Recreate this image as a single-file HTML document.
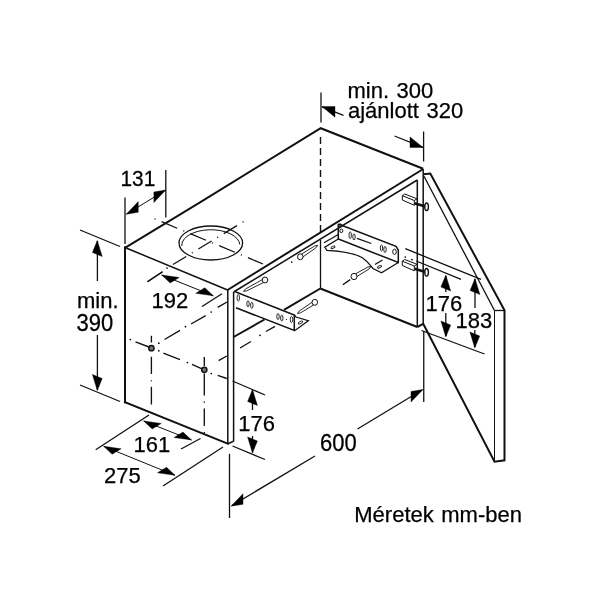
<!DOCTYPE html>
<html><head><meta charset="utf-8"><style>
html,body{margin:0;padding:0;background:#fff;width:600px;height:600px;overflow:hidden}
svg{display:block;will-change:transform}
text{font-family:"Liberation Sans",sans-serif;fill:#000;stroke:#000;stroke-width:0.25px;word-spacing:1.4px}
</style></head><body>
<svg width="600" height="600" viewBox="0 0 600 600">
<rect width="600" height="600" fill="#fff"/>
<g stroke="#111" fill="none">
<polyline points="125,247.8 200,202.3 320.7,128.2 423.2,168.8" stroke-width="2.0" fill="none" stroke-linejoin="miter"/>
<line x1="227.5" y1="290" x2="423.2" y2="169" stroke-width="2.0" stroke-linecap="butt"/>
<line x1="125" y1="247.5" x2="227.5" y2="290" stroke-width="1.5" stroke-linecap="square"/>
<line x1="125" y1="247.5" x2="125" y2="402.3" stroke-width="2.0" stroke-linecap="square"/>
<line x1="125" y1="402.3" x2="228" y2="443.8" stroke-width="2.0" stroke-linecap="square"/>
<line x1="227.8" y1="290" x2="227.8" y2="443.8" stroke-width="1.5" stroke-linecap="butt"/>
<line x1="233.6" y1="292" x2="233.6" y2="441.5" stroke-width="1.5" stroke-linecap="butt"/>
<line x1="227.8" y1="443.8" x2="233.6" y2="441.3" stroke-width="1.5" stroke-linecap="butt"/>
<line x1="233.6" y1="292" x2="417.3" y2="180" stroke-width="1.5" stroke-linecap="butt"/>
<line x1="423.2" y1="169" x2="423.2" y2="324" stroke-width="1.5" stroke-linecap="butt"/>
<line x1="417.3" y1="180" x2="417.3" y2="327" stroke-width="1.5" stroke-linecap="butt"/>
<line x1="320.5" y1="137" x2="320.5" y2="233" stroke-width="1.4" stroke-dasharray="7 4" stroke-dashoffset="0" stroke-linecap="butt"/>
<line x1="320.5" y1="240" x2="320.5" y2="288.5" stroke-width="1.3" stroke-linecap="butt"/>
<line x1="320.3" y1="288.5" x2="417.3" y2="327" stroke-width="2.0" stroke-linecap="butt"/>
<line x1="417.3" y1="327" x2="423.2" y2="323.8" stroke-width="2.0" stroke-linecap="butt"/>
<line x1="233.6" y1="337" x2="264.5" y2="319.5" stroke-width="2.0" stroke-linecap="butt"/>
<line x1="284" y1="309.8" x2="320.3" y2="288.5" stroke-width="2.0" stroke-linecap="butt"/>
<polyline points="423.5,174.3 430.3,173.6 504.5,310.3 504.5,460.3 494.5,461.7 423.2,323.8" stroke-width="2.0" fill="none" stroke-linejoin="miter"/>
<line x1="424" y1="176.3" x2="494.5" y2="310.5" stroke-width="1.3" stroke-linecap="butt"/>
<line x1="494.5" y1="310.5" x2="504.5" y2="310.5" stroke-width="1.3" stroke-linecap="butt"/>
<line x1="494.5" y1="310.5" x2="494.5" y2="461.5" stroke-width="1.0" stroke-linecap="butt"/>
<ellipse cx="210.8" cy="243" rx="31.8" ry="17" transform="rotate(0 210.8 243)" stroke-width="1.3" fill="none"/>
<path d="M181.8,246 A29 15.5 0 0 1 239.8,244.5" stroke-width="1.0" fill="none"/>
<line x1="154.4" y1="218.75" x2="263" y2="264" stroke-width="1.3" stroke-dasharray="1.2 6.5 17 6.5" stroke-dashoffset="0" stroke-linecap="butt"/>
<line x1="147.5" y1="281.7" x2="162.5" y2="271.7" stroke-width="1.3" stroke-linecap="butt"/>
<line x1="173" y1="264.5" x2="247" y2="219.5" stroke-width="1.3" stroke-dasharray="15.5 6.5 1.2 6.5" stroke-dashoffset="0" stroke-linecap="butt"/>
<circle cx="167" cy="268" r="0.85" fill="#000" stroke="none"/>
<ellipse cx="151.4" cy="348.2" rx="2.6" ry="2.6" transform="rotate(0 151.4 348.2)" stroke-width="1.5" fill="#777"/>
<ellipse cx="204.3" cy="369.8" rx="2.6" ry="2.6" transform="rotate(0 204.3 369.8)" stroke-width="1.5" fill="#777"/>
<line x1="151.4" y1="335.8" x2="151.4" y2="342.5" stroke-width="1.35" stroke-linecap="butt"/>
<line x1="151.4" y1="356.8" x2="151.4" y2="374" stroke-width="1.35" stroke-linecap="butt"/>
<line x1="151.4" y1="380.3" x2="151.4" y2="381.3" stroke-width="1.35" stroke-linecap="butt"/>
<line x1="151.4" y1="386.8" x2="151.4" y2="404.5" stroke-width="1.35" stroke-linecap="butt"/>
<line x1="204.3" y1="357" x2="204.3" y2="366" stroke-width="1.35" stroke-linecap="butt"/>
<line x1="204.3" y1="373.5" x2="204.3" y2="395.5" stroke-width="1.35" stroke-linecap="butt"/>
<line x1="204.3" y1="401.5" x2="204.3" y2="402.7" stroke-width="1.35" stroke-linecap="butt"/>
<line x1="204.3" y1="408.5" x2="204.3" y2="426" stroke-width="1.35" stroke-linecap="butt"/>
<line x1="204.3" y1="432" x2="204.3" y2="433.2" stroke-width="1.35" stroke-linecap="butt"/>
<circle cx="130.3" cy="339.5" r="0.85" fill="#000" stroke="none"/>
<circle cx="158.8" cy="350.8" r="0.85" fill="#000" stroke="none"/>
<circle cx="187.4" cy="362.5" r="0.85" fill="#000" stroke="none"/>
<circle cx="211.2" cy="373.5" r="0.85" fill="#000" stroke="none"/>
<line x1="135.5" y1="341.8" x2="149" y2="347" stroke-width="1.35" stroke-linecap="butt"/>
<line x1="163.4" y1="353.2" x2="180" y2="359.7" stroke-width="1.35" stroke-linecap="butt"/>
<line x1="192" y1="364.3" x2="202" y2="368.9" stroke-width="1.35" stroke-linecap="butt"/>
<line x1="217.7" y1="375.3" x2="226.8" y2="378.5" stroke-width="1.35" stroke-linecap="butt"/>
<circle cx="158.8" cy="343.2" r="0.85" fill="#000" stroke="none"/>
<circle cx="185.5" cy="326.7" r="0.85" fill="#000" stroke="none"/>
<circle cx="211.2" cy="312" r="0.85" fill="#000" stroke="none"/>
<line x1="164.5" y1="339.5" x2="180" y2="330.4" stroke-width="1.35" stroke-linecap="butt"/>
<line x1="191" y1="324" x2="205.7" y2="315.7" stroke-width="1.35" stroke-linecap="butt"/>
<line x1="217.7" y1="307.4" x2="227" y2="302" stroke-width="1.35" stroke-linecap="butt"/>
<line x1="218.6" y1="360.6" x2="226.8" y2="356" stroke-width="1.35" stroke-linecap="butt"/>
<line x1="240" y1="348" x2="251" y2="341.5" stroke-width="1.35" stroke-linecap="butt"/>
<line x1="266" y1="331.5" x2="275" y2="326.3" stroke-width="1.35" stroke-linecap="butt"/>
<circle cx="260" cy="335.3" r="0.85" fill="#000" stroke="none"/>
<circle cx="291.7" cy="262" r="0.85" fill="#000" stroke="none"/>
<polyline points="235.3,291.8 294.3,315 294.3,330.5 236,307.8" stroke-width="1.5" fill="none" stroke-linejoin="miter"/>
<polyline points="294.3,315 296,317 308.3,320.7 295.3,330.2 294.3,330.5" stroke-width="1.3" fill="none" stroke-linejoin="miter"/>
<ellipse cx="238.3" cy="297.8" rx="1.2" ry="3.4" transform="rotate(0 238.3 297.8)" stroke-width="0.9" fill="none"/>
<ellipse cx="248" cy="303.8" rx="1.2" ry="3.0" transform="rotate(0 248 303.8)" stroke-width="0.9" fill="none"/>
<ellipse cx="251.8" cy="305.3" rx="1.2" ry="3.0" transform="rotate(0 251.8 305.3)" stroke-width="0.9" fill="none"/>
<ellipse cx="278" cy="316.5" rx="1.2" ry="3.0" transform="rotate(0 278 316.5)" stroke-width="0.9" fill="none"/>
<ellipse cx="281.8" cy="318" rx="1.2" ry="3.0" transform="rotate(0 281.8 318)" stroke-width="0.9" fill="none"/>
<ellipse cx="291.5" cy="319.5" rx="1.2" ry="3.2" transform="rotate(0 291.5 319.5)" stroke-width="0.9" fill="none"/>
<ellipse cx="300.5" cy="322.5" rx="2.4" ry="1.1" transform="rotate(-30 300.5 322.5)" stroke-width="0.9" fill="none"/>
<circle cx="286.5" cy="319.5" r="0.6" fill="#000" stroke="none"/>
<polyline points="264.25562032871215,278.5837023953373 245.63449223884112,288.9128797930714 243.5,291.3 246.6766237786441,290.8956964395992 265.74437967128785,281.4162976046627" stroke-width="0.9" fill="none" stroke-linejoin="miter"/>
<ellipse cx="265" cy="280" rx="2.8" ry="2.94" transform="rotate(0 265 280)" stroke-width="1.0" fill="#fff"/>
<polyline points="313.9304760742709,300.9568960790078 299.4096531038501,310.92946989456345 297.5,313.5 300.6269865998708,312.8098153839526 315.6695239257291,303.64310392099225" stroke-width="0.9" fill="none" stroke-linejoin="miter"/>
<ellipse cx="314.8" cy="302.3" rx="2.8" ry="2.94" transform="rotate(0 314.8 302.3)" stroke-width="1.0" fill="#fff"/>
<polyline points="301.1822023345347,258.1348104887742 315.8147719677226,247.88849671939445 317.7,245.3 314.5796886993741,246.01976203511057 299.41779766546534,255.46518951122582" stroke-width="0.9" fill="none" stroke-linejoin="miter"/>
<ellipse cx="300.3" cy="256.8" rx="2.8" ry="2.94" transform="rotate(0 300.3 256.8)" stroke-width="1.0" fill="#fff"/>
<polyline points="354.81123220250146,277.8790947442524 368.9820598962777,268.9864267006669 371,266.5 367.84633481277564,267.05569405871347 353.18876779749854,275.1209052557476" stroke-width="0.9" fill="none" stroke-linejoin="miter"/>
<ellipse cx="354" cy="276.5" rx="3.0" ry="3.1500000000000004" transform="rotate(0 354 276.5)" stroke-width="1.0" fill="#fff"/>
<line x1="342.8" y1="284.8" x2="350.2" y2="279.6" stroke-width="1.3" stroke-linecap="butt"/>
<polyline points="338.3,224 396,246.3 398.3,250 398.3,262.5 338.3,239 338.3,224" stroke-width="1.5" fill="none" stroke-linejoin="miter"/>
<path d="M338.3,239 L324.8,247.3 L327,250.3 C340,251 352,252 362,257.5 C368,261.5 371,266 373,268.5 L381.5,272.8 L398.3,262.5" stroke-width="1.3" fill="none"/>
<line x1="324" y1="242.7" x2="338.3" y2="234.5" stroke-width="1.3" stroke-linecap="butt"/>
<ellipse cx="350.2" cy="235.2" rx="1.2" ry="3.4" transform="rotate(0 350.2 235.2)" stroke-width="0.9" fill="none"/>
<ellipse cx="354" cy="236.9" rx="1.2" ry="3.0" transform="rotate(0 354 236.9)" stroke-width="0.9" fill="none"/>
<ellipse cx="381.5" cy="248" rx="1.2" ry="3.0" transform="rotate(0 381.5 248)" stroke-width="0.9" fill="none"/>
<ellipse cx="385" cy="249.5" rx="1.2" ry="3.0" transform="rotate(0 385 249.5)" stroke-width="0.9" fill="none"/>
<line x1="357" y1="238.3" x2="371.3" y2="243.5" stroke-width="1.3" stroke-linecap="butt"/>
<ellipse cx="394.5" cy="251.8" rx="1.8" ry="2.6" transform="rotate(0 394.5 251.8)" stroke-width="1.0" fill="none"/>
<ellipse cx="340.5" cy="225.5" rx="1.5" ry="1.5" transform="rotate(0 340.5 225.5)" stroke-width="1.0" fill="none"/>
<ellipse cx="341.3" cy="230.8" rx="1.5" ry="1.8" transform="rotate(0 341.3 230.8)" stroke-width="1.0" fill="none"/>
<ellipse cx="333" cy="247.3" rx="2.2" ry="1" transform="rotate(-25 333 247.3)" stroke-width="0.9" fill="none"/>
<ellipse cx="379.5" cy="266.8" rx="2.2" ry="1" transform="rotate(-25 379.5 266.8)" stroke-width="0.9" fill="none"/>
<line x1="375" y1="264.5" x2="382.5" y2="260" stroke-width="1.3" stroke-linecap="butt"/>
<polyline points="402.3,195.7 404.7,194 417,198.8 414.3,200.5 402.3,195.7 402.3,200 414.3,205.3 414.3,200.5" stroke-width="1.0" fill="none" stroke-linejoin="miter"/>
<line x1="414.5" y1="203.2" x2="425.5" y2="206.5" stroke-width="2.6" stroke-linecap="butt"/>
<ellipse cx="426.6" cy="206.8" rx="1.8" ry="3.8" transform="rotate(0 426.6 206.8)" stroke-width="1.4" fill="#fff"/>
<polyline points="402.3,261.2 404.7,259.5 417,264.3 414.3,266.0 402.3,261.2 402.3,265.5 414.3,270.8 414.3,266.0" stroke-width="1.0" fill="none" stroke-linejoin="miter"/>
<line x1="414.5" y1="268.7" x2="425.5" y2="272.0" stroke-width="2.6" stroke-linecap="butt"/>
<ellipse cx="426.6" cy="272.3" rx="1.8" ry="3.8" transform="rotate(0 426.6 272.3)" stroke-width="1.4" fill="#fff"/>
<line x1="125" y1="197.5" x2="125" y2="244" stroke-width="1.3" stroke-linecap="butt"/>
<line x1="165.8" y1="170" x2="165.8" y2="217.5" stroke-width="1.3" stroke-linecap="butt"/>
<line x1="126.3" y1="214.2" x2="165.8" y2="190" stroke-width="1.0" stroke-linecap="butt"/>
<polygon points="126.30,214.20 138.24,212.19 138.24,201.59" fill="#000" stroke="#000" stroke-width="0.4"/>
<polygon points="165.80,190.00 153.86,202.61 153.86,192.01" fill="#000" stroke="#000" stroke-width="0.4"/>
<text transform="translate(120.5 185.5) scale(0.95 1.0)" x="0" y="0" font-size="22" text-anchor="start">131</text>
<line x1="80" y1="230" x2="120" y2="246.5" stroke-width="1.3" stroke-linecap="butt"/>
<line x1="80" y1="385" x2="120" y2="401.5" stroke-width="1.3" stroke-linecap="butt"/>
<line x1="97.4" y1="241" x2="97.4" y2="281" stroke-width="1.3" stroke-linecap="butt"/>
<polygon points="97.30,240.50 102.20,256.53 92.40,252.47" fill="#000" stroke="#000" stroke-width="0.4"/>
<line x1="97.4" y1="335" x2="97.4" y2="390" stroke-width="1.3" stroke-linecap="butt"/>
<polygon points="97.30,390.50 102.20,378.53 92.40,374.47" fill="#000" stroke="#000" stroke-width="0.4"/>
<text x="77" y="307.5" font-size="22" text-anchor="start">min.</text>
<text transform="translate(76.5 330.5) scale(1.0 1.07)" x="0" y="0" font-size="22" text-anchor="start">390</text>
<line x1="147.5" y1="281.7" x2="162.5" y2="271.7" stroke-width="1.3" stroke-linecap="butt"/>
<line x1="202" y1="306.5" x2="222" y2="293.7" stroke-width="1.3" stroke-linecap="butt"/>
<line x1="161.7" y1="275" x2="213.3" y2="295.8" stroke-width="1.0" stroke-linecap="butt"/>
<polygon points="161.70,275.00 179.21,277.47 170.16,282.99" fill="#000" stroke="#000" stroke-width="0.4"/>
<polygon points="213.30,295.80 204.84,287.81 195.79,293.33" fill="#000" stroke="#000" stroke-width="0.4"/>
<text x="151.5" y="307.5" font-size="22" text-anchor="start">192</text>
<line x1="321" y1="92.5" x2="321" y2="122.5" stroke-width="1.3" stroke-linecap="butt"/>
<line x1="322" y1="106.8" x2="343.5" y2="115.3" stroke-width="1.3" stroke-linecap="butt"/>
<polygon points="322.00,106.60 334.98,117.15 334.98,106.55" fill="#000" stroke="#000" stroke-width="0.4"/>
<line x1="394.5" y1="136" x2="423" y2="147.4" stroke-width="1.3" stroke-linecap="butt"/>
<polygon points="423.00,147.40 410.00,147.50 410.00,136.90" fill="#000" stroke="#000" stroke-width="0.4"/>
<line x1="423.6" y1="131.5" x2="423.6" y2="161.5" stroke-width="1.3" stroke-linecap="butt"/>
<text x="347.5" y="98" font-size="22" text-anchor="start">min. 300</text>
<text x="348" y="118" font-size="22" text-anchor="start">ajánlott 320</text>
<line x1="405.3" y1="248.7" x2="481" y2="279.3" stroke-width="1.3" stroke-linecap="butt"/>
<circle cx="405.3" cy="257" r="0.85" fill="#000" stroke="none"/>
<line x1="411" y1="259.3" x2="413" y2="260" stroke-width="1.3" stroke-linecap="butt"/>
<line x1="416.3" y1="261" x2="461" y2="279.3" stroke-width="1.3" stroke-linecap="butt"/>
<line x1="421.5" y1="330.5" x2="484.5" y2="354" stroke-width="1.3" stroke-linecap="butt"/>
<line x1="445.8" y1="276" x2="445.8" y2="292" stroke-width="1.3" stroke-linecap="butt"/>
<polygon points="445.80,275.00 450.70,291.03 440.90,286.97" fill="#000" stroke="#000" stroke-width="0.4"/>
<line x1="445.8" y1="313" x2="445.8" y2="336" stroke-width="1.3" stroke-linecap="butt"/>
<polygon points="445.80,337.00 450.70,325.03 440.90,320.97" fill="#000" stroke="#000" stroke-width="0.4"/>
<line x1="475" y1="279" x2="475" y2="308" stroke-width="1.3" stroke-linecap="butt"/>
<polygon points="475.00,278.50 479.90,294.53 470.10,290.47" fill="#000" stroke="#000" stroke-width="0.4"/>
<line x1="474.8" y1="330" x2="474.8" y2="347" stroke-width="1.3" stroke-linecap="butt"/>
<polygon points="474.80,348.00 479.70,336.03 469.90,331.97" fill="#000" stroke="#000" stroke-width="0.4"/>
<text x="425.5" y="310.5" font-size="22" text-anchor="start">176</text>
<text x="455.5" y="328" font-size="22" text-anchor="start">183</text>
<line x1="232.5" y1="381" x2="265" y2="395" stroke-width="1.3" stroke-linecap="butt"/>
<line x1="232.5" y1="446" x2="265" y2="459.5" stroke-width="1.3" stroke-linecap="butt"/>
<line x1="252.5" y1="390" x2="252.5" y2="410" stroke-width="1.3" stroke-linecap="butt"/>
<polygon points="252.50,389.50 257.40,405.53 247.60,401.47" fill="#000" stroke="#000" stroke-width="0.4"/>
<line x1="252.5" y1="436" x2="252.5" y2="452.5" stroke-width="1.3" stroke-linecap="butt"/>
<polygon points="252.50,453.00 257.40,441.03 247.60,436.97" fill="#000" stroke="#000" stroke-width="0.4"/>
<text x="238.2" y="431" font-size="22" text-anchor="start">176</text>
<line x1="229.5" y1="453.8" x2="229.5" y2="518" stroke-width="1.3" stroke-linecap="butt"/>
<line x1="423.75" y1="331" x2="423.75" y2="402" stroke-width="1.3" stroke-linecap="butt"/>
<line x1="232" y1="505.5" x2="315" y2="456" stroke-width="1.3" stroke-linecap="butt"/>
<polygon points="231.00,506.20 243.02,504.32 243.02,493.72" fill="#000" stroke="#000" stroke-width="0.4"/>
<line x1="357.5" y1="429" x2="422" y2="390" stroke-width="1.3" stroke-linecap="butt"/>
<polygon points="423.00,389.50 411.01,402.03 411.01,391.43" fill="#000" stroke="#000" stroke-width="0.4"/>
<text transform="translate(320 451.2) scale(1.0 1.08)" x="0" y="0" font-size="22" text-anchor="start">600</text>
<line x1="95.7" y1="449.7" x2="149" y2="415" stroke-width="1.3" stroke-linecap="butt"/>
<line x1="163" y1="486" x2="223" y2="447" stroke-width="1.3" stroke-linecap="butt"/>
<line x1="103.7" y1="446.3" x2="175" y2="475.3" stroke-width="1.0" stroke-linecap="butt"/>
<polygon points="103.70,446.30 121.19,448.81 112.14,454.33" fill="#000" stroke="#000" stroke-width="0.4"/>
<polygon points="175.00,475.30 166.56,467.27 157.51,472.79" fill="#000" stroke="#000" stroke-width="0.4"/>
<line x1="181" y1="449" x2="200.5" y2="438.5" stroke-width="1.3" stroke-linecap="butt"/>
<line x1="143.7" y1="421" x2="191.5" y2="440" stroke-width="1.0" stroke-linecap="butt"/>
<polygon points="143.70,421.00 161.23,423.41 152.19,428.93" fill="#000" stroke="#000" stroke-width="0.4"/>
<polygon points="191.50,440.00 183.01,432.07 173.97,437.59" fill="#000" stroke="#000" stroke-width="0.4"/>
<text x="133.5" y="452" font-size="22" text-anchor="start">161</text>
<text x="104" y="483" font-size="22" text-anchor="start">275</text>
<text x="354.3" y="521.8" font-size="22" text-anchor="start">Méretek mm-ben</text>
</g>
</svg>
</body></html>
